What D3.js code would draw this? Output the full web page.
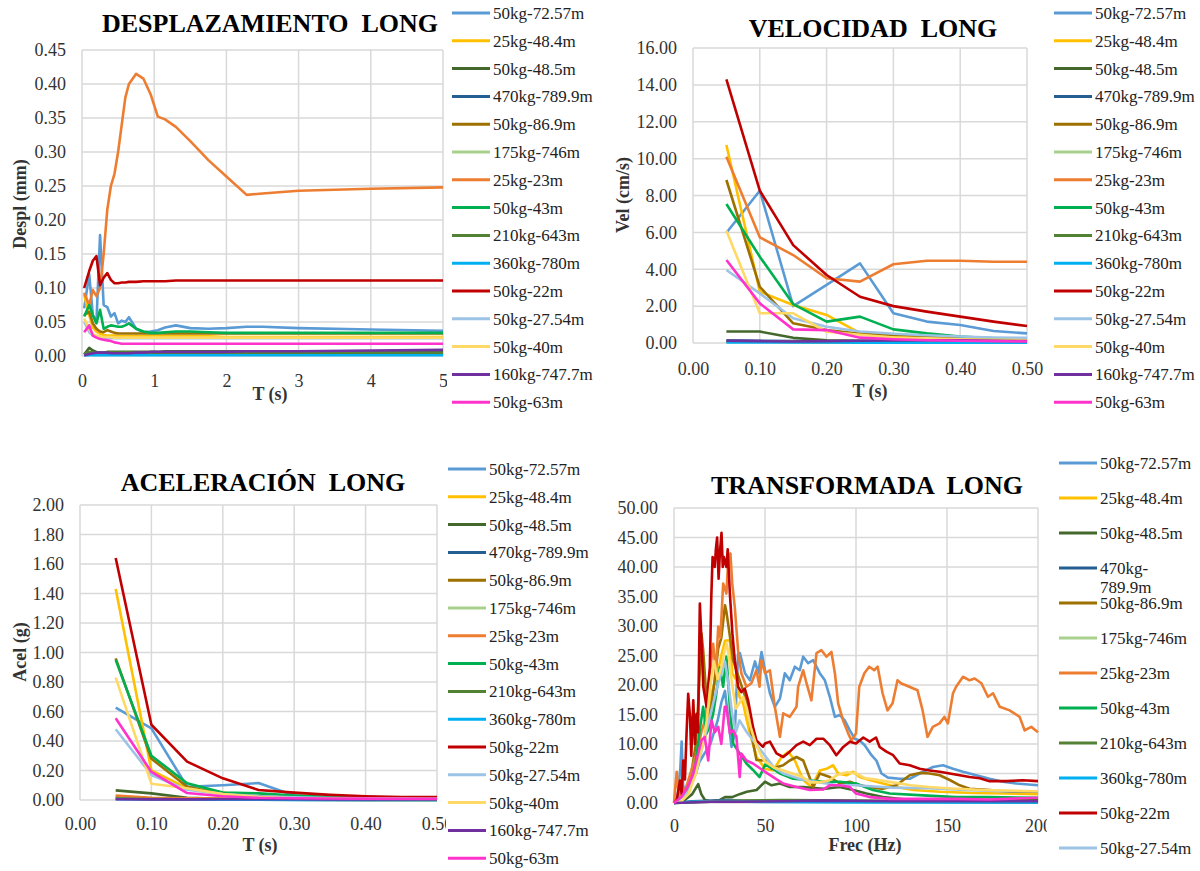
<!DOCTYPE html>
<html>
<head>
<meta charset="utf-8">
<script src="https://cdn.jsdelivr.net/npm/d3@7"></script>
<style>
  html, body { margin: 0; padding: 0; background: #fff; }
  svg { display: block; }
  svg text { font-family: 'Liberation Serif', 'Times New Roman', serif; }
</style>
</head>
<body>
<svg id="chart" width="1200" height="871"></svg>
<script>
'use strict';

// ---- series (same order / colours in all four charts) ----
var SERIES = ['50kg-72.57m', '25kg-48.4m', '50kg-48.5m', '470kg-789.9m', '50kg-86.9m',
  '175kg-746m', '25kg-23m', '50kg-43m', '210kg-643m', '360kg-780m', '50kg-22m',
  '50kg-27.54m', '50kg-40m', '160kg-747.7m', '50kg-63m'];
var COLORS = ['#5B9BD5', '#FFC000', '#43682B', '#255E91', '#9E7000', '#A9D18E', '#ED7D31',
  '#00B050', '#548235', '#00B0F0', '#C00000', '#9DC3E6', '#FFD966', '#7030A0', '#FF33CC'];

// ---- desplazamiento (mm) vs T (s) ----
var T_DESPL = [0.03, 0.1, 0.15, 0.2, 0.25, 0.3, 0.35, 0.4, 0.45, 0.5, 0.55, 0.6, 0.65, 0.75,
  0.85, 0.95, 1.05, 1.15, 1.3, 1.5, 1.75, 2.0, 2.28, 2.5, 3.0, 4.0, 5.0];
var DESPL = [
  [0.070, 0.120, 0.060, 0.050, 0.178, 0.075, 0.072, 0.058, 0.063, 0.048, 0.052, 0.050, 0.057, 0.040, 0.035, 0.036, 0.038, 0.042, 0.045, 0.041, 0.040, 0.041, 0.043, 0.043, 0.041, 0.039, 0.037],
  [0.090, 0.060, 0.042, 0.036, 0.033, 0.031, 0.030, 0.030, 0.030, 0.029, 0.029, 0.029, 0.029, 0.029, 0.029, 0.029, 0.029, 0.029, 0.029, 0.029, 0.029, 0.028, 0.028, 0.028, 0.028, 0.028, 0.028],
  [0.002, 0.012, 0.008, 0.006, 0.005, 0.005, 0.006, 0.006, 0.006, 0.006, 0.006, 0.006, 0.006, 0.006, 0.006, 0.006, 0.006, 0.007, 0.007, 0.007, 0.007, 0.007, 0.007, 0.007, 0.007, 0.007, 0.007],
  [0.001, 0.002, 0.002, 0.002, 0.002, 0.002, 0.002, 0.002, 0.002, 0.002, 0.002, 0.002, 0.002, 0.002, 0.002, 0.002, 0.002, 0.002, 0.002, 0.002, 0.002, 0.002, 0.002, 0.002, 0.002, 0.002, 0.002],
  [0.060, 0.065, 0.048, 0.040, 0.036, 0.035, 0.038, 0.036, 0.034, 0.033, 0.033, 0.033, 0.033, 0.033, 0.033, 0.033, 0.033, 0.033, 0.033, 0.033, 0.033, 0.033, 0.033, 0.033, 0.033, 0.033, 0.033],
  [0.002, 0.003, 0.003, 0.003, 0.003, 0.003, 0.003, 0.003, 0.003, 0.003, 0.003, 0.003, 0.003, 0.003, 0.003, 0.003, 0.003, 0.003, 0.003, 0.003, 0.003, 0.003, 0.003, 0.003, 0.003, 0.003, 0.003],
  [0.093, 0.075, 0.097, 0.088, 0.100, 0.150, 0.215, 0.250, 0.268, 0.300, 0.340, 0.380, 0.400, 0.415, 0.408, 0.385, 0.352, 0.348, 0.337, 0.316, 0.288, 0.264, 0.237, 0.239, 0.243, 0.246, 0.248],
  [0.058, 0.075, 0.060, 0.048, 0.068, 0.040, 0.043, 0.045, 0.044, 0.043, 0.043, 0.045, 0.048, 0.040, 0.036, 0.034, 0.034, 0.035, 0.036, 0.036, 0.035, 0.034, 0.034, 0.034, 0.034, 0.034, 0.034],
  [0.003, 0.006, 0.005, 0.005, 0.005, 0.005, 0.005, 0.005, 0.005, 0.005, 0.005, 0.005, 0.005, 0.005, 0.005, 0.005, 0.005, 0.005, 0.005, 0.005, 0.005, 0.005, 0.005, 0.005, 0.005, 0.005, 0.005],
  [0.001, 0.001, 0.001, 0.001, 0.001, 0.001, 0.001, 0.001, 0.001, 0.001, 0.001, 0.001, 0.001, 0.001, 0.001, 0.001, 0.001, 0.001, 0.001, 0.001, 0.001, 0.001, 0.001, 0.001, 0.001, 0.001, 0.001],
  [0.100, 0.125, 0.140, 0.147, 0.104, 0.115, 0.122, 0.112, 0.107, 0.107, 0.108, 0.108, 0.109, 0.109, 0.110, 0.110, 0.110, 0.110, 0.111, 0.111, 0.111, 0.111, 0.111, 0.111, 0.111, 0.111, 0.111],
  [0.050, 0.035, 0.030, 0.028, 0.027, 0.027, 0.026, 0.026, 0.026, 0.026, 0.026, 0.026, 0.026, 0.026, 0.026, 0.026, 0.026, 0.026, 0.026, 0.026, 0.026, 0.026, 0.026, 0.026, 0.026, 0.026, 0.026],
  [0.055, 0.040, 0.032, 0.030, 0.029, 0.028, 0.028, 0.028, 0.027, 0.027, 0.027, 0.027, 0.027, 0.027, 0.027, 0.027, 0.027, 0.027, 0.027, 0.027, 0.027, 0.027, 0.027, 0.027, 0.027, 0.027, 0.027],
  [0.001, 0.003, 0.004, 0.005, 0.005, 0.005, 0.005, 0.004, 0.004, 0.004, 0.004, 0.004, 0.004, 0.005, 0.005, 0.006, 0.006, 0.006, 0.006, 0.006, 0.006, 0.006, 0.007, 0.007, 0.007, 0.008, 0.009],
  [0.035, 0.045, 0.030, 0.027, 0.025, 0.024, 0.023, 0.022, 0.020, 0.019, 0.018, 0.018, 0.018, 0.018, 0.018, 0.018, 0.018, 0.018, 0.018, 0.018, 0.018, 0.018, 0.018, 0.018, 0.018, 0.018, 0.018]
];

// ---- velocidad (cm/s) and aceleracion (g) vs T (s) ----
var T_SPEC = [0.05, 0.10, 0.15, 0.20, 0.25, 0.30, 0.35, 0.40, 0.45, 0.50];
var VEL = [
  [5.98, 8.26, 2.00, 3.15, 4.32, 1.61, 1.16, 0.98, 0.65, 0.52],
  [10.74, 2.78, 2.06, 1.52, 0.54, 0.35, 0.28, 0.25, 0.22, 0.20],
  [0.62, 0.62, 0.28, 0.15, 0.12, 0.10, 0.08, 0.07, 0.06, 0.05],
  [0.15, 0.12, 0.10, 0.08, 0.07, 0.06, 0.05, 0.05, 0.04, 0.04],
  [8.84, 3.05, 1.07, 0.70, 0.50, 0.45, 0.35, 0.30, 0.25, 0.22],
  [0.10, 0.08, 0.06, 0.05, 0.05, 0.04, 0.04, 0.03, 0.03, 0.03],
  [10.10, 5.73, 4.77, 3.51, 3.33, 4.27, 4.46, 4.46, 4.41, 4.41],
  [7.54, 4.68, 2.11, 1.16, 1.43, 0.74, 0.52, 0.35, 0.25, 0.20],
  [0.08, 0.07, 0.06, 0.05, 0.05, 0.04, 0.04, 0.03, 0.03, 0.03],
  [0.03, 0.03, 0.03, 0.03, 0.02, 0.02, 0.02, 0.02, 0.02, 0.02],
  [14.30, 8.26, 5.31, 3.69, 2.51, 2.00, 1.70, 1.43, 1.16, 0.92],
  [3.96, 2.69, 1.34, 0.88, 0.62, 0.50, 0.42, 0.35, 0.30, 0.28],
  [6.09, 1.61, 1.61, 0.61, 0.45, 0.30, 0.25, 0.20, 0.18, 0.15],
  [0.12, 0.10, 0.08, 0.10, 0.12, 0.14, 0.15, 0.14, 0.12, 0.10],
  [4.50, 2.15, 0.74, 0.70, 0.29, 0.20, 0.15, 0.12, 0.10, 0.08]
];
var ACEL = [
  [0.626, 0.486, 0.090, 0.100, 0.115, 0.030, 0.020, 0.015, 0.012, 0.010],
  [1.430, 0.200, 0.080, 0.050, 0.020, 0.012, 0.010, 0.008, 0.007, 0.006],
  [0.065, 0.045, 0.015, 0.008, 0.005, 0.004, 0.003, 0.003, 0.002, 0.002],
  [0.020, 0.010, 0.005, 0.003, 0.002, 0.002, 0.001, 0.001, 0.001, 0.001],
  [0.960, 0.280, 0.090, 0.040, 0.025, 0.015, 0.010, 0.008, 0.006, 0.005],
  [0.010, 0.005, 0.003, 0.002, 0.002, 0.001, 0.001, 0.001, 0.001, 0.001],
  [0.030, 0.015, 0.012, 0.010, 0.012, 0.018, 0.017, 0.015, 0.013, 0.012],
  [0.950, 0.300, 0.113, 0.050, 0.045, 0.030, 0.020, 0.015, 0.012, 0.010],
  [0.010, 0.006, 0.004, 0.003, 0.002, 0.002, 0.002, 0.001, 0.001, 0.001],
  [0.005, 0.004, 0.003, 0.002, 0.002, 0.001, 0.001, 0.001, 0.001, 0.001],
  [1.640, 0.510, 0.260, 0.147, 0.068, 0.050, 0.035, 0.025, 0.020, 0.020],
  [0.480, 0.170, 0.070, 0.040, 0.025, 0.018, 0.014, 0.011, 0.009, 0.008],
  [0.830, 0.110, 0.080, 0.040, 0.020, 0.012, 0.010, 0.008, 0.007, 0.006],
  [0.005, 0.004, 0.004, 0.005, 0.005, 0.005, 0.004, 0.004, 0.003, 0.003],
  [0.554, 0.190, 0.047, 0.025, 0.015, 0.012, 0.010, 0.009, 0.008, 0.008]
];

// ---- transformada: [frecuencia (Hz), amplitud] ----
var fftBlue = [[0,0],[2,1],[3.5,6],[4.2,10.4],[5,3],[6.5,1.5],[8,3],[10,4],[12,5],[14,7],[16,8],[18,9],[20,10],[22,12],[24,14],[26,17],[28,19],[29.7,14.6],[31.6,9.5],[33.4,11.8],[35.2,25.3],[36.2,25.4],[39,22],[41.7,20.8],[44.5,24],[46.3,22],[48.1,25.6],[50,22.5],[52.7,18.6],[55.4,16.3],[58.2,17.7],[60.9,22],[63.6,20.8],[66.4,23.1],[69.1,22.5],[71,24.8],[73.7,23.7],[76.5,24.2],[80.1,22],[82.9,20.8],[85.6,18],[88.4,14.6],[91.1,14.9],[93.8,14],[96.6,12.3],[99.3,10.9],[102,10.6],[104.8,9.8],[108.5,8.1],[111.2,7.2],[114,5],[117.6,4.3],[124,4.1],[129.5,4.1],[135,5],[142.3,6.1],[147.8,6.4],[153.3,5.8],[158.8,5.3],[166,4.7],[173.4,4.1],[180.7,3.6],[188,3.3],[200,3.0]];
var fftYellow = [[0,0],[4,0.5],[8,2],[10,4],[12,6],[14,9],[16,10],[18,12],[20,18],[22,20],[24,22],[26,25],[28,27.5],[30.7,27.6],[32,22],[34.4,20.8],[36,18],[38,16.9],[40,14],[41.7,11.8],[45.4,7.8],[50,5.8],[54.5,5.5],[59.1,7.8],[62.8,8.7],[66.4,7.2],[71,3.9],[75.5,2.7],[80.1,5.5],[83.8,5.8],[87.4,6.4],[90.2,5],[94.7,4.7],[98.4,5.3],[102,4.4],[107.5,3.9],[114.8,3.3],[122.2,2.7],[131.4,2.2],[146,1.9],[164.3,1.7],[182.6,1.6],[200,1.5]];
var fftDarkGreen = [[0,0],[5,0.3],[10,1.5],[13.3,3.2],[15,1.5],[17,0.5],[20,0.3],[25,0.5],[28,1],[32,1],[36,1.5],[40,1.9],[45.4,2.2],[50,3.6],[53.6,3],[58.2,3.3],[63.6,2.7],[71,2.7],[82,2.4],[91,2.7],[98.4,2.2],[105.7,1.6],[114.8,1],[127.6,0.6],[146,0.5],[200,0.5]];
var fftNavy = [[0,0],[10,0.3],[30,0.5],[50,0.3],[100,0.2],[200,0.1]];
var fftBrown = [[0,0],[4,1],[8,3],[10,6],[12,10],[13.5,18],[15.1,28.7],[16,26],[17.9,17.4],[19.7,14.6],[22,20],[24.3,26.2],[26,28],[28,33.5],[28.8,32.4],[30.7,28.3],[32.5,24.2],[36.1,20.8],[39.8,17.4],[42.5,11.8],[45.3,7.3],[50,7.2],[53.6,5.8],[60,6.4],[63.6,7.2],[67.3,7.8],[71,7.2],[73.7,5],[76.5,2.7],[80.1,5],[85.6,4.4],[91.1,3.3],[96.6,3.6],[102,3],[107.5,2.7],[114.8,2.4],[122.2,3],[129.5,4.7],[135,5.1],[140.5,5],[146,4.7],[151.5,3.9],[157,3],[162.4,2.4],[173.4,2.2],[184.4,1.9],[200,1.9]];
var fftLightGreen = [[0,0],[20,0.3],[50,0.4],[100,0.3],[200,0.2]];
var fftOrange = [[0,0],[0.8,3],[1.5,5.3],[2.4,2],[3.5,1],[5,1.5],[7,3],[9,5],[11,7],[13,9],[15,12],[17,14],[19,20],[21.5,27],[23,22],[24.3,29.9],[25.5,28],[27,37.2],[28.8,35.5],[29.7,40.5],[31,42.3],[32,37.2],[33.4,33.2],[35.2,25.9],[37,22],[39.8,19.7],[42.5,20.3],[45.3,22.5],[47,19.7],[48,24.2],[50,22],[52.7,22.5],[55.4,16.3],[58.2,11.2],[60,15.2],[63.6,14.6],[67.3,16.3],[68.2,19.7],[71,22.5],[72.8,20.3],[75.5,17.4],[78.3,25.4],[81,25.9],[83.8,24.8],[86.5,25.6],[88.4,22],[90.2,16.9],[92.9,14],[95.7,11.8],[97.5,10.6],[100,11.8],[101.8,19.7],[104.6,22],[107.3,23.1],[110,22.5],[111.9,23.1],[114.6,18.6],[117.3,15.7],[120.1,16.9],[122.8,20.8],[124.7,20.3],[129.3,19.7],[133.8,19.1],[136.6,15.7],[139.3,11.2],[142.2,12.9],[145.9,13.5],[148.6,14.6],[150.5,13.5],[153.3,18.6],[155,19.7],[158.8,21.4],[162.4,20.8],[165.2,21.1],[168.9,20.3],[172.5,18],[175.3,18.6],[179,16.3],[184.4,15.7],[189.9,14.6],[192.7,12.3],[196.3,12.9],[200,12]];
var fftGreen = [[0,0],[4,0.3],[8,2],[10,4],[12,7],[14,12],[16,16.3],[17.9,11.8],[19.7,13],[21.5,15.1],[23,18],[25.2,23],[27,19.7],[28.8,24.8],[30.7,16.3],[32.5,10.1],[36.1,8.4],[39.8,6.7],[43.4,5.6],[47,4.4],[50,6.5],[52.7,6.1],[58.2,5],[65.5,4.1],[72.8,3.9],[82,3.6],[91.1,3.6],[100,3.3],[109.3,2.2],[118.5,1.6],[136.9,1.3],[155,1],[173,1],[200,0.9]];
var fftOlive = [[0,0],[20,0.2],[40,0.4],[60,0.5],[100,0.4],[150,0.3],[200,0.3]];
var fftCyan = [[0,0],[10,0.2],[40,0.2],[100,0.1],[200,0.1]];
var fftRed = [[0,0],[1.5,0.5],[3.3,3.8],[4.2,1.5],[5.1,7.2],[6,4],[6.9,11.8],[7.8,18.5],[8.8,14.6],[9.5,8],[10.6,17.4],[11.5,10],[12.4,15.1],[13.2,12],[14.2,33.8],[15.1,27.6],[16.1,19.7],[17.9,16.3],[18.8,20],[19.7,23],[20.5,35],[21.2,41.7],[22.4,40],[23,43],[23.7,45],[24.5,38],[25.2,42.3],[26.1,45.8],[26.8,40],[27.4,41.7],[28.8,40],[29.5,43],[30.7,35.5],[32.1,28.7],[33.4,24.2],[35.2,19.7],[37,18.8],[38.9,19.4],[40.7,17.4],[43.4,12.9],[45.3,10.6],[48.9,9.5],[50,10.1],[52.7,10.4],[56.3,8.4],[60,7.8],[63.6,8.7],[67.3,9.8],[71,10.4],[74.6,9.8],[78.3,10.9],[82,10.9],[85.6,9.8],[89.2,8.1],[93,9.5],[96.6,10.4],[100,10.1],[104,11.1],[107.5,10.4],[111,11.1],[113,9.5],[116.7,8.7],[120.4,8.1],[124,6.7],[129.5,6.4],[135,5.8],[140.5,5.5],[146,5.3],[151.5,5.0],[157,4.7],[162.4,4.4],[168,4.2],[173.4,3.7],[182.6,3.7],[191.7,3.85],[200,3.7]];
var fftLightBlue = [[0,0],[4,0.5],[8,2],[12,5],[16,10],[20,15],[24,20],[26,22],[28,24],[30,20],[32,15],[34,12],[36,14],[40,12],[45,10],[50,8],[55,6],[60,5],[70,4],[80,3.5],[90,3],[100,3],[110,2.8],[120,2.6],[140,2.5],[160,2.2],[180,2],[200,2]];
var fftLightYellow = [[0,0],[4,0.3],[8,1.5],[12,5],[14,8],[16,10],[18,14],[20,20],[22,24],[24,21],[26,23],[28,26],[29,27],[30,25],[32,20],[34,16],[36,17],[38,18],[40,16],[42,13],[45,10],[48,8],[50,7],[55,6],[60,5.5],[65,5],[70,4.5],[75,3.5],[80,3.5],[85,3.8],[90,4.8],[95,5.2],[100,5],[105,4.2],[110,4],[120,3.5],[130,3],[140,2.7],[150,2.5],[170,2.2],[200,2]];
var fftPurple = [[0,0],[20,0.2],[35,0.2],[60,0.3],[80,0.4],[120,0.3],[200,0.3]];
var fftPink = [[0,0],[2,0.5],[4,1],[6,2],[8,3],[10.6,5],[13.3,8.4],[15.1,10.6],[16.9,11.2],[18.8,7.2],[20.6,14],[22.4,12],[24.3,12.9],[26,10],[27.9,16.3],[28.8,16.3],[30.7,11.8],[32.5,12.3],[34.3,11.2],[36.1,4.4],[37,8.4],[39.8,7.2],[43.4,6.7],[49,5.5],[54.5,4.4],[60,3.3],[67.3,2.7],[74.6,2.2],[82,2.3],[85.6,3],[91.1,3],[96.6,2.7],[100,1.6],[107.5,1],[118.5,0.7],[136.9,0.7],[155,0.7],[173.4,0.6],[200,0.9]];
var FFT = [fftBlue, fftYellow, fftDarkGreen, fftNavy, fftBrown, fftLightGreen, fftOrange,
  fftGreen, fftOlive, fftCyan, fftRed, fftLightBlue, fftLightYellow, fftPurple, fftPink];

// ---- ticks ----
var DESPL_X_TICKS = [0, 1, 2, 3, 4, 5];
var DESPL_Y_TICKS = [0, 0.05, 0.10, 0.15, 0.20, 0.25, 0.30, 0.35, 0.40, 0.45];
var VEL_Y_TICKS = [0, 2, 4, 6, 8, 10, 12, 14, 16];
var ACEL_Y_TICKS = [0, 0.2, 0.4, 0.6, 0.8, 1.0, 1.2, 1.4, 1.6, 1.8, 2.0];
var T_TICKS = [0, 0.1, 0.2, 0.3, 0.4, 0.5];
var FREC_X_TICKS = [0, 50, 100, 150, 200];
var FREC_Y_TICKS = [0, 5, 10, 15, 20, 25, 30, 35, 40, 45, 50];

var GRID = '#D9D9D9';
var TEXT = '#333';
var H = 871;

function zipSeries(xs, vals) {
  return xs.map(function (x, i) { return [x, vals[i]]; });
}

function drawPanel(svg, cfg) {
  var x = d3.scaleLinear().domain(cfg.xDomain).range([cfg.left, cfg.right]);
  var y = d3.scaleLinear().domain(cfg.yDomain).range([cfg.bottom, cfg.top]);
  var g = svg.append('g');

  g.append('g').selectAll('line').data(cfg.yTicks).enter().append('line')
    .attr('x1', cfg.left).attr('x2', cfg.right)
    .attr('y1', function (d) { return y(d); }).attr('y2', function (d) { return y(d); })
    .attr('stroke', GRID).attr('stroke-width', 1.5);
  g.append('g').selectAll('line').data(cfg.xTicks).enter().append('line')
    .attr('y1', cfg.top).attr('y2', cfg.bottom)
    .attr('x1', function (d) { return x(d); }).attr('x2', function (d) { return x(d); })
    .attr('stroke', GRID).attr('stroke-width', 1.5);

  var yAxis = d3.axisLeft(y).tickValues(cfg.yTicks).tickFormat(d3.format('.2f'))
    .tickSize(0).tickPadding(16);
  var ya = g.append('g').attr('transform', 'translate(' + cfg.left + ',0)').call(yAxis);
  var xAxis = d3.axisBottom(x).tickValues(cfg.xTicks).tickFormat(cfg.xFormat)
    .tickSize(0).tickPadding(cfg.xPad);
  var xa = g.append('g').attr('transform', 'translate(0,' + cfg.bottom + ')').call(xAxis);
  [ya, xa].forEach(function (a) {
    a.attr('font-family', null).attr('font-size', 18);
    a.select('.domain').remove();
    a.selectAll('text').attr('fill', TEXT);
  });

  var line = d3.line()
    .x(function (d) { return x(d[0]); })
    .y(function (d) { return y(d[1]); });
  g.append('g').selectAll('path').data(cfg.series).enter().append('path')
    .attr('d', line)
    .attr('fill', 'none')
    .attr('stroke', function (d, i) { return COLORS[i]; })
    .attr('stroke-width', 2.6)
    .attr('stroke-linejoin', 'round');

  g.append('text').attr('x', cfg.titleX).attr('y', cfg.titleY)
    .attr('text-anchor', 'middle').attr('font-size', 26).attr('font-weight', 'bold')
    .style('white-space', 'pre').attr('fill', '#000').text(cfg.title);
  g.append('text').attr('x', cfg.xLabelX).attr('y', cfg.xLabelY)
    .attr('text-anchor', 'middle').attr('font-size', 18).attr('font-weight', 'bold')
    .attr('fill', TEXT).text(cfg.xLabel);
  if (cfg.yLabel) {
    g.append('text')
      .attr('transform', 'translate(' + cfg.yLabelX + ',' + cfg.yLabelY + ') rotate(-90)')
      .attr('text-anchor', 'middle').attr('dy', '0.35em')
      .attr('font-size', 18).attr('font-weight', 'bold')
      .attr('fill', TEXT).text(cfg.yLabel);
  }
}

function drawLegend(svg, lg) {
  var g = svg.append('g');
  g.append('rect').attr('x', lg.bgX).attr('y', lg.bgY)
    .attr('width', lg.bgW).attr('height', lg.bgH).attr('fill', '#fff');
  SERIES.forEach(function (name, i) {
    var yy = lg.y + i * lg.step;
    if (yy > H - 8) return; // legend is cut by the picture edge, as in the original
    g.append('line').attr('x1', lg.x).attr('x2', lg.x + 38)
      .attr('y1', yy).attr('y2', yy)
      .attr('stroke', COLORS[i]).attr('stroke-width', 3);
    var t = g.append('text').attr('x', lg.x + 41).attr('y', yy).attr('dy', '0.35em')
      .attr('font-size', 17).attr('fill', '#222').text(name);
    if (lg.maxWidth && t.node().getComputedTextLength() > lg.maxWidth) {
      var cut = name.indexOf('-') + 1;
      t.text(name.slice(0, cut));
      g.append('text').attr('x', lg.x + 41).attr('y', yy + 19).attr('dy', '0.35em')
        .attr('font-size', 17).attr('fill', '#222').text(name.slice(cut));
    }
  });
}

var svg = d3.select('#chart');
svg.append('rect').attr('width', 1200).attr('height', H).attr('fill', '#fff');

drawPanel(svg, {
  left: 82, right: 443, top: 50, bottom: 356,
  xDomain: [0, 5], yDomain: [0, 0.45],
  xTicks: DESPL_X_TICKS, yTicks: DESPL_Y_TICKS, xFormat: d3.format('d'), xPad: 18,
  series: DESPL.map(function (v) { return zipSeries(T_DESPL, v); }),
  title: 'DESPLAZAMIENTO  LONG', titleX: 270, titleY: 32,
  xLabel: 'T (s)', xLabelX: 270, xLabelY: 400,
  yLabel: 'Despl (mm)', yLabelX: 20, yLabelY: 204
});
drawPanel(svg, {
  left: 693, right: 1027, top: 48, bottom: 343,
  xDomain: [0, 0.5], yDomain: [0, 16],
  xTicks: T_TICKS, yTicks: VEL_Y_TICKS, xFormat: d3.format('.2f'), xPad: 19,
  series: VEL.map(function (v) { return zipSeries(T_SPEC, v); }),
  title: 'VELOCIDAD  LONG', titleX: 873, titleY: 37,
  xLabel: 'T (s)', xLabelX: 870, xLabelY: 397,
  yLabel: 'Vel (cm/s)', yLabelX: 623, yLabelY: 195
});
drawPanel(svg, {
  left: 80, right: 437, top: 505, bottom: 800,
  xDomain: [0, 0.5], yDomain: [0, 2],
  xTicks: T_TICKS, yTicks: ACEL_Y_TICKS, xFormat: d3.format('.2f'), xPad: 17,
  series: ACEL.map(function (v) { return zipSeries(T_SPEC, v); }),
  title: 'ACELERACIÓN  LONG', titleX: 263, titleY: 491,
  xLabel: 'T (s)', xLabelX: 260, xLabelY: 851,
  yLabel: 'Acel (g)', yLabelX: 20, yLabelY: 652
});
drawPanel(svg, {
  left: 674, right: 1038, top: 508, bottom: 803,
  xDomain: [0, 200], yDomain: [0, 50],
  xTicks: FREC_X_TICKS, yTicks: FREC_Y_TICKS, xFormat: d3.format('d'), xPad: 16,
  series: FFT,
  title: 'TRANSFORMADA  LONG', titleX: 867, titleY: 494,
  xLabel: 'Frec (Hz)', xLabelX: 865, xLabelY: 851,
  yLabel: null
});

drawLegend(svg, { x: 452, y: 13, step: 27.8, bgX: 447, bgY: 0, bgW: 150, bgH: 415 });
drawLegend(svg, { x: 1054, y: 13, step: 27.8, bgX: 1048, bgY: 0, bgW: 152, bgH: 415 });
drawLegend(svg, { x: 448, y: 469, step: 27.8, bgX: 446, bgY: 455, bgW: 150, bgH: 416 });
drawLegend(svg, { x: 1059, y: 463, step: 35, maxWidth: 98, bgX: 1047, bgY: 445, bgW: 153, bgH: 426 });
</script>
</body>
</html>
